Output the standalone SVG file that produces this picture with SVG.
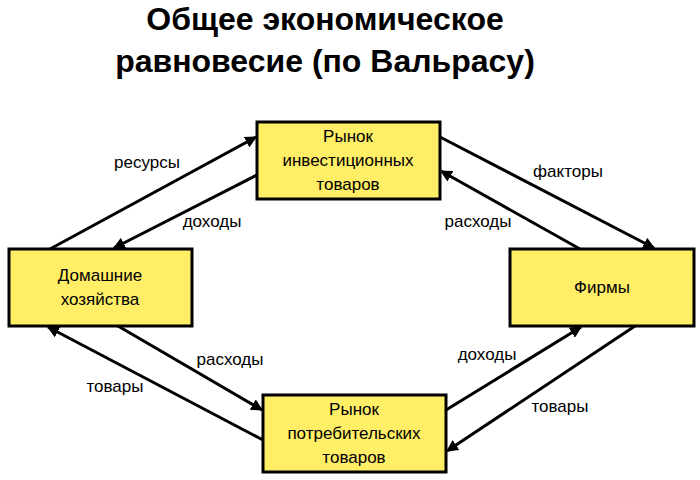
<svg xmlns="http://www.w3.org/2000/svg" width="700" height="480" viewBox="0 0 700 480">
<style>
.box{fill:#ffee66;stroke:#000;stroke-width:3}
.t{font-family:"Liberation Sans",Arial,sans-serif;font-size:17px;fill:#000;text-anchor:middle}
.title{font-family:"Liberation Sans",Arial,sans-serif;font-size:32px;font-weight:bold;text-anchor:middle}
.c line{stroke:#000;stroke-width:3;marker-end:url(#a)}
</style>
<defs><marker id="a" viewBox="0 0 10 10" refX="9" refY="5" markerWidth="4" markerHeight="4" orient="auto"><path d="M0,0L10,5L0,10z"/></marker></defs>
<rect width="700" height="480" fill="#fff"/>
<text class="title" x="325" y="30">Общее экономическое</text>
<text class="title" x="325" y="72">равновесие (по Вальрасу)</text>
<g class="c">
<line x1="50" y1="249" x2="256" y2="137"/>
<line x1="257" y1="175" x2="114" y2="248"/>
<line x1="440" y1="137" x2="654" y2="248"/>
<line x1="580" y1="249" x2="441" y2="171"/>
<line x1="118" y1="326" x2="262" y2="410"/>
<line x1="263" y1="440" x2="48" y2="327"/>
<line x1="446" y1="410" x2="581" y2="327"/>
<line x1="635" y1="326" x2="447" y2="451"/>
</g>
<g class="t">
<text x="147" y="168">ресурсы</text>
<text x="212" y="227">доходы</text>
<text x="568" y="177">факторы</text>
<text x="478" y="227">расходы</text>
<text x="230" y="365">расходы</text>
<text x="115" y="392">товары</text>
<text x="487" y="360">доходы</text>
<text x="560" y="412">товары</text>
</g>
<g id="invest"><rect class="box" x="257" y="122" width="183" height="77"/><text class="t" x="348" y="142">Рынок</text><text class="t" x="348" y="166">инвестиционных</text><text class="t" x="348" y="190">товаров</text></g>
<g id="home"><rect class="box" x="9" y="249" width="183" height="77"/><text class="t" x="100" y="281">Домашние</text><text class="t" x="100" y="305">хозяйства</text></g>
<g id="firms"><rect class="box" x="510" y="249" width="184" height="77"/><text class="t" x="602" y="293">Фирмы</text></g>
<g id="consumer"><rect class="box" x="263" y="395" width="183" height="77"/><text class="t" x="354" y="415">Рынок</text><text class="t" x="354" y="439">потребительских</text><text class="t" x="354" y="463">товаров</text></g>
</svg>
